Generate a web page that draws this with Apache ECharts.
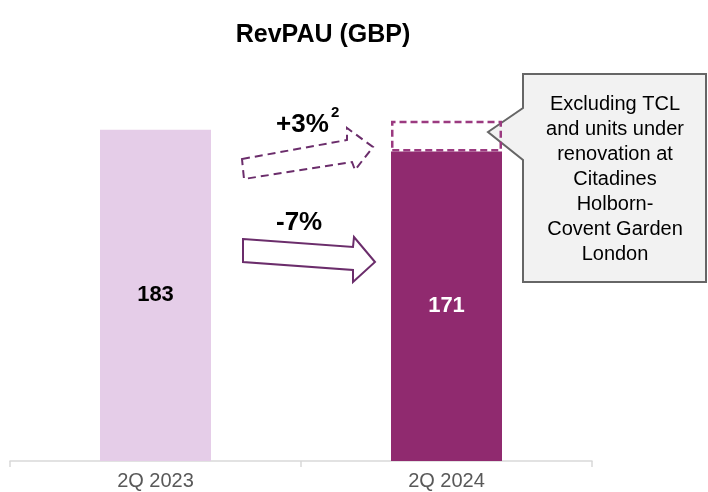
<!DOCTYPE html>
<html>
<head>
<meta charset="utf-8">
<script src="https://cdn.jsdelivr.net/npm/echarts@6/dist/echarts.min.js"></script>
<style>
  html, body { margin: 0; padding: 0; background: #fff; }
  #chart-container { width: 708px; height: 492px; }
</style>
</head>
<body>
<div id="chart-container"></div>
<script>
// data
var categories = ["2Q 2023", "2Q 2024"];
var revpau = [183, 171];
var comparable = [null, 188]; // excl. TCL & renovation units
var changeLabels = ["+3%", "-7%"];
var noteLines = ["Excluding TCL", "and units under", "renovation at", "Citadines", "Holborn-", "Covent Garden", "London"];

var dom = document.getElementById("chart-container");
var myChart = echarts.init(dom, null, { renderer: "canvas" });

var barColors = ["#E5CDE8", "#902A6F"];
var labelColors = ["#000000", "#ffffff"];

// the dashed cap sits on top of the actual bar
var capData = comparable.map(function (v, i) {
  return v == null ? null : v - revpau[i];
});

var option = {
  animation: false,
  title: {
    text: "RevPAU (GBP)",
    left: 318,
    textAlign: "center",
    top: 18,
    textStyle: { fontFamily: "Liberation Sans, Arial", fontSize: 25, fontWeight: "bold", color: "#000" }
  },
  grid: { left: 10, right: 116, top: 99, bottom: 31 },
  xAxis: {
    type: "category",
    data: categories,
    axisLine: { lineStyle: { color: "#D9D9D9", width: 1.5 } },
    axisTick: { show: true, length: 6, lineStyle: { color: "#D9D9D9", width: 1.5 } },
    axisLabel: { color: "#595959", fontSize: 20, fontFamily: "Liberation Sans, Arial", margin: 10 }
  },
  yAxis: { type: "value", min: 0, max: 200, show: false, splitLine: { show: false } },
  series: [
    {
      type: "bar",
      stack: "rev",
      barWidth: 111,
      data: revpau.map(function (v, i) {
        return {
          value: v,
          itemStyle: { color: barColors[i] },
          label: { color: labelColors[i] }
        };
      }),
      label: {
        show: true,
        position: "inside",
        fontSize: 22,
        fontWeight: "bold",
        fontFamily: "Liberation Sans, Arial"
      }
    },
    {
      type: "bar",
      stack: "rev",
      barWidth: 111,
      data: capData,
      itemStyle: {
        color: "rgba(255,255,255,0)",
        borderColor: "#9B3A80",
        borderWidth: 2.5,
        borderType: [7, 4]
      }
    }
  ],
  graphic: [
    // dashed arrow (comparable change)
    {
      type: "polygon",
      shape: { points: [[242, 159], [347, 140], [347, 128], [373, 147], [355, 170], [352, 162], [244, 179]] },
      style: { fill: "#fff", stroke: "#6B2D6B", lineWidth: 2, lineDash: [8, 5] }
    },
    // solid arrow (reported change)
    {
      type: "polygon",
      shape: { points: [[243, 239], [353, 247], [354, 237], [375, 262], [353, 282], [353, 270], [243, 262]] },
      style: { fill: "#fff", stroke: "#6B2D6B", lineWidth: 2 }
    },
    {
      type: "text", left: 276, top: 112,
      style: { text: changeLabels[0], font: "bold 26px Liberation Sans, Arial", fill: "#000" }
    },
    {
      type: "text", left: 331, top: 105,
      style: { text: "2", font: "bold 15px Liberation Sans, Arial", fill: "#000" }
    },
    {
      type: "text", left: 276, top: 210,
      style: { text: changeLabels[1], font: "bold 26px Liberation Sans, Arial", fill: "#000" }
    },
    // callout box
    {
      type: "polygon",
      shape: { points: [[523, 74], [706, 74], [706, 282], [523, 282], [523, 160], [488, 132], [523, 108]] },
      style: { fill: "#F2F2F2", stroke: "#666666", lineWidth: 2 }
    },
    {
      type: "text",
      x: 615, y: 179,
      style: {
        text: noteLines.join("\n"),
        font: "20px Liberation Sans, Arial",
        lineHeight: 25,
        fill: "#000",
        align: "center",
        verticalAlign: "middle"
      }
    }
  ]
};

myChart.setOption(option);
</script>
</body>
</html>
